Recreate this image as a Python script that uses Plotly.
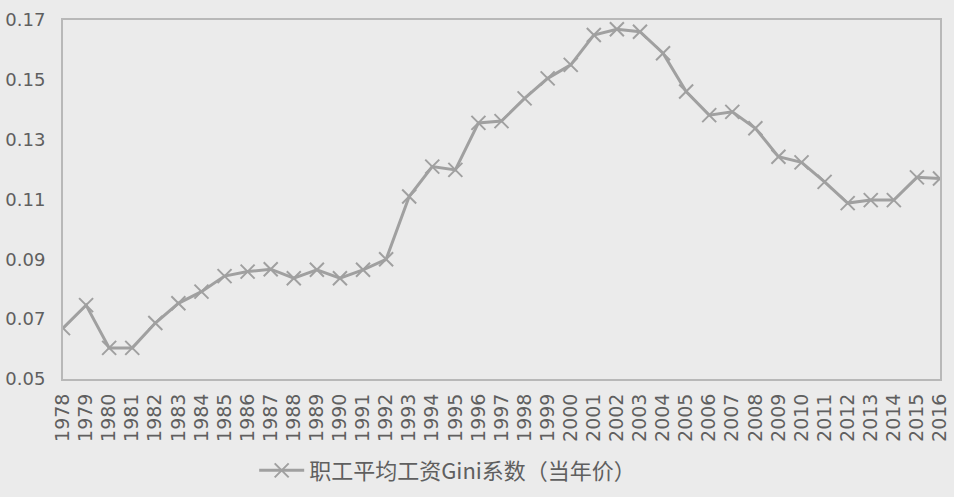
import plotly.graph_objects as go

years = [str(y) for y in range(1978, 2017)]
gini = [0.0670, 0.0747, 0.0604, 0.0604, 0.0687, 0.0753, 0.0792, 0.0844, 0.0859, 0.0867,
        0.0837, 0.0865, 0.0837, 0.0865, 0.0900, 0.1110, 0.1210, 0.1199, 0.1356, 0.1362,
        0.1438, 0.1505, 0.1550, 0.1650, 0.1669, 0.1661, 0.1589, 0.1461, 0.1382, 0.1393,
        0.1338, 0.1243, 0.1224, 0.1159, 0.1088, 0.1098, 0.1098, 0.1174, 0.1170]
series_name = "职工平均工资Gini系数（当年价）"
y_ticks = [0.05, 0.07, 0.09, 0.11, 0.13, 0.15, 0.17]

bg = "#ebebeb"
line_col = "#a0a0a0"
txt_col = "#5f5f5f"

fig = go.Figure()
fig.add_trace(go.Scatter(
    x=years, y=gini, name=series_name, mode="lines+markers",
    line=dict(color=line_col, width=3),
    marker=dict(symbol="x-thin-open", size=14, line=dict(color=line_col, width=2), color=line_col),
))

fig.update_layout(
    width=954, height=497,
    paper_bgcolor=bg, plot_bgcolor=bg,
    margin=dict(l=63, r=14, t=20, b=118, autoexpand=False),
    font=dict(family="DejaVu Sans", size=18, color=txt_col),
    showlegend=True,
    legend=dict(orientation="h", x=0.218, y=-0.255, xanchor="left", yanchor="middle",
                bgcolor="rgba(0,0,0,0)",
                font=dict(family="Noto Sans CJK SC", size=22, color=txt_col),
                itemwidth=45),
)
fig.update_xaxes(
    type="category", range=[0, 38], tickangle=-90, tickmode="linear", tick0=0, dtick=1,
    showline=True, linecolor="#b8b8b8", linewidth=2, mirror=True, automargin=False,
    showgrid=False, ticks="", tickfont=dict(size=19, color=txt_col),
    ticklabelstandoff=5,
)
fig.update_yaxes(
    range=[0.05, 0.17], tickvals=y_ticks, ticktext=[f"{v:.2f}" for v in y_ticks],
    showline=True, linecolor="#b8b8b8", linewidth=2, mirror=True, automargin=False,
    showgrid=False, ticks="", zeroline=False, tickfont=dict(size=18, color=txt_col),
    ticklabelstandoff=12,
)

fig.write_html(
    "out.html",
    config={"displayModeBar": False},
    post_script="document.body.style.margin='0';document.body.style.background='#ebebeb';document.body.style.overflow='hidden';",
)
